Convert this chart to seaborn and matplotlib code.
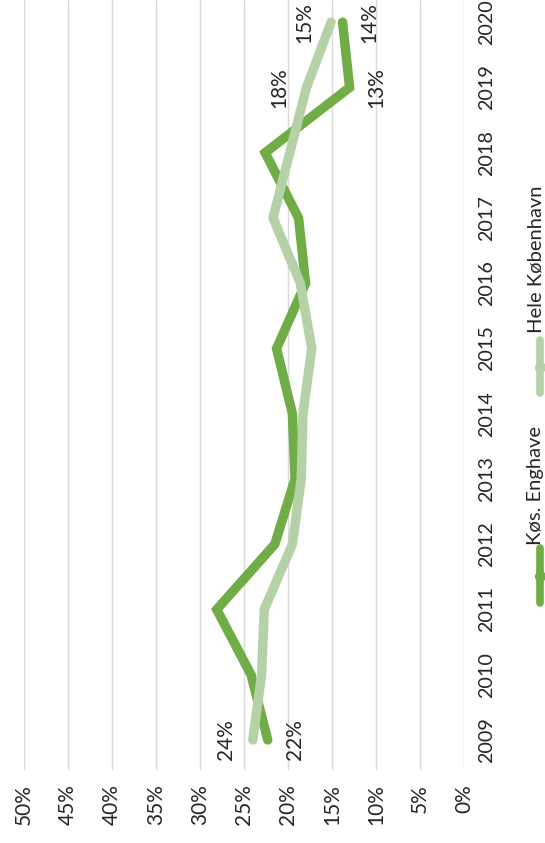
import numpy as np
import matplotlib
matplotlib.use('Agg')
import matplotlib.pyplot as plt
import matplotlib.lines as mlines
import pandas as pd
import seaborn as sb

# data
years = [2009, 2010, 2011, 2012, 2013, 2014, 2015, 2016, 2017, 2018, 2019, 2020]
koes_enghave = [22.3, 24.2, 28.1, 21.5, 19.2, 19.5, 21.3, 18.0, 18.8, 22.6, 13.0, 13.8]
hele_kbh = [24.0, 23.0, 22.7, 19.5, 18.5, 18.3, 17.3, 18.6, 21.7, 19.8, 17.9, 15.1]
series_names = ['Køs. Enghave', 'Hele København']
colors = ['#70ad47', '#b5d1a8']
pct_ticks = [0, 5, 10, 15, 20, 25, 30, 35, 40, 45, 50]
labelled_years = [2009, 2019, 2020]

df = pd.DataFrame({
    'year': years * 2,
    'pct': koes_enghave + hele_kbh,
    'area': [series_names[0]] * len(years) + [series_names[1]] * len(years),
})

sb.set_style('white')
plt.rcParams['font.family'] = ['Lato', 'DejaVu Sans']
fs = 15

W, H = 545, 843
fig = plt.figure(figsize=(W / 100, H / 100), dpi=100)
ax = fig.add_axes([24 / W, 73 / H, 440 / W, 770 / H])

sb.lineplot(data=df, x='pct', y='year', hue='area', hue_order=series_names,
            palette=colors, orient='y', linewidth=6.8, legend=False, ax=ax,
            solid_capstyle='round', solid_joinstyle='miter')

ax.set_xlim(50, 0)
ax.set_ylim(2008.54, 2020.34)

ax.set_xticks(pct_ticks)
ax.set_xticklabels([f'{v}%' for v in pct_ticks], rotation=90, fontsize=fs)
ax.tick_params(axis='x', length=0, pad=10.5)

ax.yaxis.tick_right()
ax.set_yticks(years)
ax.set_yticklabels([str(y) for y in years], rotation=90, va='center', fontsize=14.2)
ax.tick_params(axis='y', length=0, pad=10.5)

ax.grid(axis='x', color='#d9d9d9', linewidth=1)
ax.grid(axis='y', visible=False)
for s in ax.spines.values():
    s.set_visible(False)
ax.set_xlabel('')
ax.set_ylabel('')

# data labels
for vals, off in [(koes_enghave, 19.5), (hele_kbh, -19.5)]:
    for yr in labelled_years:
        v = vals[years.index(yr)]
        ax.annotate(f'{round(v)}%', (v, yr), xytext=(off, 0), textcoords='offset points',
                    rotation=90, ha='center', va='center', fontsize=fs)

# legend drawn rotated by hand
leg_x = 540 / W
leg = [(548, 603, 545), (340, 393, 333)]
for (y0, y1, ty), name, c in zip(leg, series_names, colors):
    fig.add_artist(mlines.Line2D([leg_x, leg_x], [(H - y1) / H, (H - y0) / H],
                                 transform=fig.transFigure, color=c, lw=5.5,
                                 solid_capstyle='round'))
    fig.add_artist(mlines.Line2D([leg_x], [(H - (y0 + y1) / 2) / H], marker='o',
                                 ms=7, color=c, transform=fig.transFigure))
    fig.text(541 / W, (H - ty) / H, name, rotation=90, rotation_mode='anchor',
             ha='left', va='baseline', fontsize=14.5)

plt.savefig('out.png', dpi=100)
